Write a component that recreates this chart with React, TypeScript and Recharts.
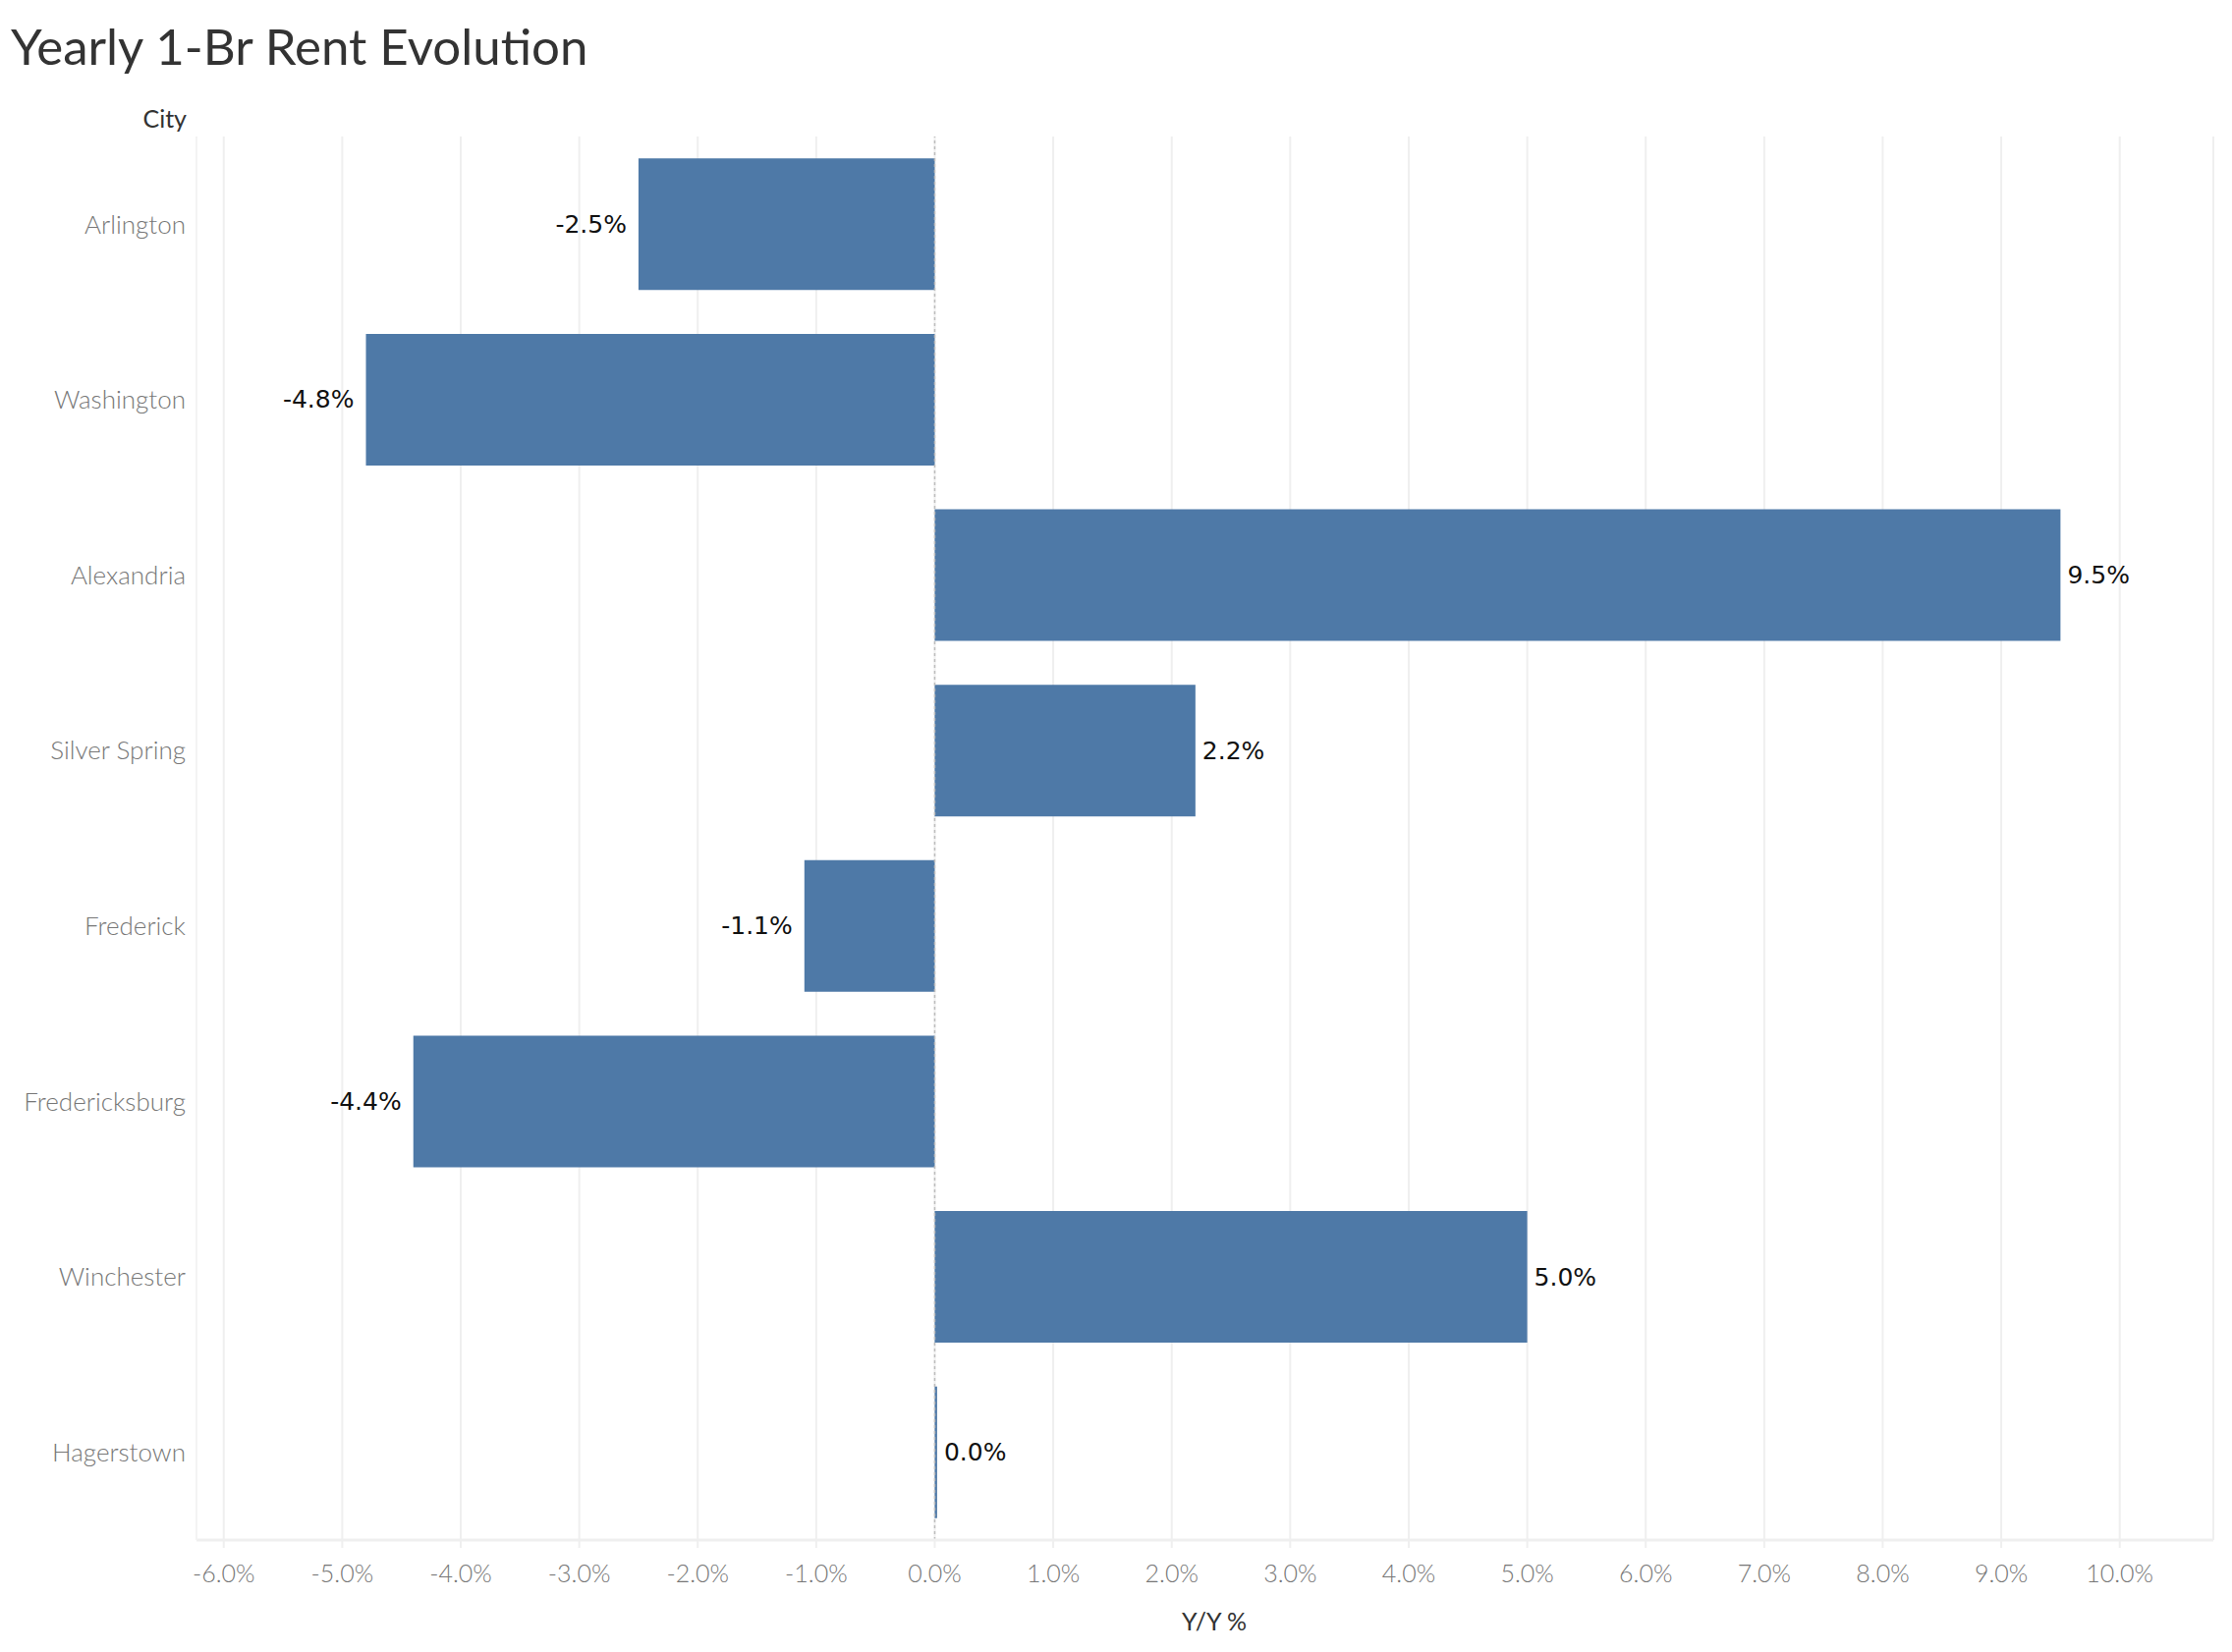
import { BarChart, Bar, XAxis, YAxis, CartesianGrid, ReferenceLine, LabelList } from 'recharts';

const cities = ['Arlington', 'Washington', 'Alexandria', 'Silver Spring', 'Frederick', 'Fredericksburg', 'Winchester', 'Hagerstown'];
const yoyChange = [-2.5, -4.8, 9.5, 2.2, -1.1, -4.4, 5.0, 0.02];
const xTicks = [-6, -5, -4, -3, -2, -1, 0, 1, 2, 3, 4, 5, 6, 7, 8, 9, 10];

const data = cities.map((city, i) => ({ city, yoy: yoyChange[i] }));

const BLUE = '#4e79a7';
const GRID = '#efefef';

function ValueLabel(props: any) {
  const { x, y, width, height, value } = props;
  const a = Number(x);
  const b = Number(x) + Number(width);
  const cy = Number(y) + Number(height) / 2;
  const neg = value < 0;
  const end = neg ? Math.min(a, b) : Math.max(a, b);
  return (
    <text
      x={neg ? end - 12 : end + 7}
      y={cy}
      textAnchor={neg ? 'end' : 'start'}
      dominantBaseline="central"
      fontFamily="DejaVu Sans, sans-serif"
      fontSize={25}
      fill="#111"
    >
      {`${Number(value).toFixed(1)}%`}
    </text>
  );
}

export default function App() {
  return (
    <div style={{ position: 'relative', width: 2256, height: 1666, background: '#fff', fontFamily: 'Lato, sans-serif' }}>
      <div style={{ position: 'absolute', left: 3, top: 13, fontSize: 51, color: '#333', lineHeight: 1 }}>
        Yearly 1-Br Rent Evolution
      </div>
      <div style={{ position: 'absolute', right: 2256 - 182, top: 100, fontSize: 25, color: '#333', lineHeight: 1 }}>
        City
      </div>
      <BarChart
        width={2256}
        height={1666}
        data={data}
        layout="vertical"
        margin={{ top: 131, right: 11, left: 0, bottom: 0 }}
        barCategoryGap="12.5%"
      >
        <CartesianGrid horizontal={false} stroke={GRID} strokeWidth={2} />
        <XAxis
          type="number"
          domain={[-6.23, 10.79]}
          ticks={xTicks}
          allowDataOverflow
          height={106}
          tickFormatter={(v: number) => `${v.toFixed(1)}%`}
          tick={{ fontSize: 25, fill: '#777', fontFamily: 'Lato, sans-serif', fontWeight: 300 }}
          tickSize={8}
          tickMargin={17}
          tickLine={{ stroke: GRID, strokeWidth: 2 }}
          axisLine={{ stroke: GRID, strokeWidth: 3 }}
        />
        <YAxis
          type="category"
          dataKey="city"
          width={192}
          tickSize={0}
          tickMargin={11}
          tickLine={false}
          axisLine={{ stroke: '#f3f3f3', strokeWidth: 2 }}
          tick={{ fontSize: 26, fill: '#777', fontFamily: 'Lato, sans-serif', fontWeight: 300 }}
        />
        <ReferenceLine x={0} stroke="#bdbdbd" strokeDasharray="3 3" strokeWidth={1.5} />
        <Bar dataKey="yoy" fill={BLUE} isAnimationActive={false}>
          <LabelList dataKey="yoy" content={ValueLabel} />
        </Bar>
      </BarChart>
      <div style={{ position: 'absolute', left: 1228, top: 1630, transform: 'translateX(-50%)', fontSize: 25, color: '#333', lineHeight: 1 }}>
        Y/Y %
      </div>
    </div>
  );
}
